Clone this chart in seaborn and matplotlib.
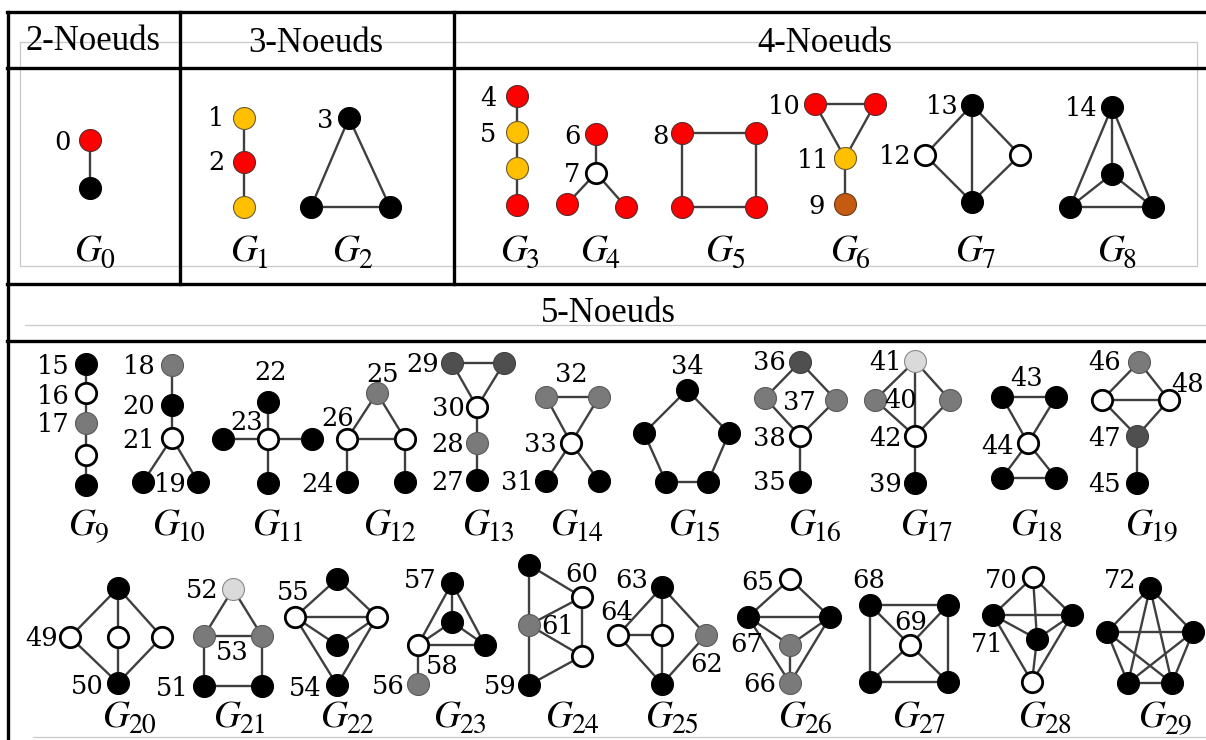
import pandas as pd
import seaborn as sns
import matplotlib.pyplot as plt
from matplotlib.collections import LineCollection

sns.set_theme(style='white')
plt.rcParams['font.family'] = ['DejaVu Serif']
plt.rcParams['text.color'] = 'black'

# ------------------------------
# data: graphlets (positions in picture pixels)
# ------------------------------
headers = ['2-Noeuds', '3-Noeuds', '4-Noeuds', '5-Noeuds']
header_x = [93, 316, 825, 608]
header_y = [42, 43, 43, 314]

# (graph, x, y, kind) -- local node index = order inside its graph
nodes = [
    (0, 90, 140, 'red'), (0, 90, 188, 'black'),
    (1, 244, 118, 'yellow'), (1, 244, 162, 'red'), (1, 244, 207, 'yellow'),
    (2, 349, 118, 'black'), (2, 311, 207, 'black'), (2, 390, 207, 'black'),
    (3, 517, 96, 'red'), (3, 517, 132, 'yellow'), (3, 517, 168, 'yellow'), (3, 517, 205, 'red'),
    (4, 596, 134, 'red'), (4, 596, 173, 'white'), (4, 567, 204, 'red'), (4, 626, 207, 'red'),
    (5, 682, 133, 'red'), (5, 756, 133, 'red'), (5, 682, 207, 'red'), (5, 756, 207, 'red'),
    (6, 815, 104, 'red'), (6, 875, 104, 'red'), (6, 845, 158, 'yellow'), (6, 845, 204, 'brown'),
    (7, 972, 105, 'black'), (7, 925, 155, 'white'), (7, 1020, 155, 'white'), (7, 972, 202, 'black'),
    (8, 1112, 107, 'black'), (8, 1112, 174, 'black'), (8, 1070, 207, 'black'), (8, 1153, 207, 'black'),
    (9, 86, 364, 'black'), (9, 86, 393, 'white'), (9, 86, 423, 'grey'), (9, 86, 455, 'white'), (9, 86, 485, 'black'),
    (10, 172, 365, 'grey'), (10, 172, 405, 'black'), (10, 172, 438, 'white'), (10, 143, 482, 'black'), (10, 198, 482, 'black'),
    (11, 268, 402, 'black'), (11, 268, 439, 'white'), (11, 223, 439, 'black'), (11, 312, 439, 'black'), (11, 268, 483, 'black'),
    (12, 377, 393, 'grey'), (12, 347, 439, 'white'), (12, 405, 439, 'white'), (12, 347, 482, 'black'), (12, 405, 482, 'black'),
    (13, 452, 363, 'dark'), (13, 504, 363, 'dark'), (13, 477, 407, 'white'), (13, 477, 443, 'grey'), (13, 477, 480, 'black'),
    (14, 546, 397, 'grey'), (14, 599, 397, 'grey'), (14, 571, 443, 'white'), (14, 546, 481, 'black'), (14, 599, 481, 'black'),
    (15, 687, 390, 'black'), (15, 644, 433, 'black'), (15, 729, 433, 'black'), (15, 666, 482, 'black'), (15, 708, 482, 'black'),
    (16, 800, 362, 'dark'), (16, 765, 398, 'grey'), (16, 836, 400, 'grey'), (16, 800, 436, 'white'), (16, 800, 482, 'black'),
    (17, 915, 361, 'light'), (17, 875, 400, 'grey'), (17, 950, 400, 'grey'), (17, 915, 436, 'white'), (17, 915, 483, 'black'),
    (18, 1002, 397, 'black'), (18, 1056, 397, 'black'), (18, 1028, 443, 'white'), (18, 1002, 478, 'black'), (18, 1056, 478, 'black'),
    (19, 1139, 362, 'grey'), (19, 1102, 400, 'white'), (19, 1169, 400, 'white'), (19, 1137, 436, 'dark'), (19, 1137, 483, 'black'),
    (20, 118, 588, 'black'), (20, 70, 637, 'white'), (20, 118, 637, 'white'), (20, 162, 637, 'white'), (20, 118, 683, 'black'),
    (21, 233, 589, 'light'), (21, 204, 636, 'grey'), (21, 262, 636, 'grey'), (21, 204, 686, 'black'), (21, 262, 686, 'black'),
    (22, 337, 579, 'black'), (22, 295, 617, 'white'), (22, 377, 617, 'white'), (22, 337, 645, 'black'), (22, 337, 685, 'black'),
    (23, 452, 583, 'black'), (23, 452, 622, 'black'), (23, 418, 645, 'white'), (23, 485, 645, 'black'), (23, 418, 684, 'grey'),
    (24, 529, 565, 'black'), (24, 529, 625, 'grey'), (24, 529, 685, 'black'), (24, 582, 597, 'white'), (24, 582, 656, 'white'),
    (25, 662, 587, 'black'), (25, 618, 635, 'white'), (25, 662, 635, 'white'), (25, 706, 635, 'grey'), (25, 662, 684, 'black'),
    (26, 790, 579, 'white'), (26, 748, 617, 'black'), (26, 830, 617, 'black'), (26, 790, 645, 'grey'), (26, 790, 683, 'grey'),
    (27, 870, 605, 'black'), (27, 948, 605, 'black'), (27, 910, 645, 'white'), (27, 870, 682, 'black'), (27, 948, 682, 'black'),
    (28, 1033, 577, 'white'), (28, 993, 615, 'black'), (28, 1072, 615, 'black'), (28, 1037, 639, 'black'), (28, 1032, 682, 'white'),
    (29, 1150, 588, 'black'), (29, 1107, 632, 'black'), (29, 1193, 632, 'black'), (29, 1128, 683, 'black'), (29, 1172, 683, 'black'),
]

# (graph, a, b)
edges = [
    (0, 0, 1),
    (1, 0, 1), (1, 1, 2),
    (2, 0, 1), (2, 0, 2), (2, 1, 2),
    (3, 0, 1), (3, 1, 2), (3, 2, 3),
    (4, 0, 1), (4, 1, 2), (4, 1, 3),
    (5, 0, 1), (5, 0, 2), (5, 1, 3), (5, 2, 3),
    (6, 0, 1), (6, 0, 2), (6, 1, 2), (6, 2, 3),
    (7, 0, 1), (7, 0, 2), (7, 0, 3), (7, 1, 3), (7, 2, 3),
    (8, 0, 1), (8, 0, 2), (8, 0, 3), (8, 1, 2), (8, 1, 3), (8, 2, 3),
    (9, 0, 1), (9, 1, 2), (9, 2, 3), (9, 3, 4),
    (10, 0, 1), (10, 1, 2), (10, 2, 3), (10, 2, 4),
    (11, 1, 0), (11, 1, 2), (11, 1, 3), (11, 1, 4),
    (12, 0, 1), (12, 0, 2), (12, 1, 2), (12, 1, 3), (12, 2, 4),
    (13, 0, 1), (13, 0, 2), (13, 1, 2), (13, 2, 3), (13, 3, 4),
    (14, 0, 1), (14, 0, 2), (14, 1, 2), (14, 2, 3), (14, 2, 4),
    (15, 0, 1), (15, 0, 2), (15, 1, 3), (15, 2, 4), (15, 3, 4),
    (16, 0, 1), (16, 0, 2), (16, 1, 3), (16, 2, 3), (16, 3, 4),
    (17, 0, 1), (17, 0, 2), (17, 0, 3), (17, 1, 3), (17, 2, 3), (17, 3, 4),
    (18, 0, 1), (18, 0, 2), (18, 1, 2), (18, 2, 3), (18, 2, 4), (18, 3, 4),
    (19, 0, 1), (19, 0, 2), (19, 1, 2), (19, 1, 3), (19, 2, 3), (19, 3, 4),
    (20, 0, 1), (20, 0, 2), (20, 0, 3), (20, 1, 4), (20, 2, 4), (20, 3, 4),
    (21, 0, 1), (21, 0, 2), (21, 1, 2), (21, 1, 3), (21, 2, 4), (21, 3, 4),
    (22, 0, 1), (22, 0, 2), (22, 1, 2), (22, 1, 3), (22, 2, 3), (22, 1, 4), (22, 2, 4),
    (23, 0, 1), (23, 0, 2), (23, 0, 3), (23, 1, 2), (23, 1, 3), (23, 2, 3), (23, 2, 4),
    (24, 0, 1), (24, 1, 2), (24, 0, 3), (24, 3, 1), (24, 3, 4), (24, 1, 4), (24, 4, 2),
    (25, 0, 1), (25, 0, 2), (25, 0, 3), (25, 1, 2), (25, 1, 4), (25, 2, 4), (25, 3, 4),
    (26, 0, 1), (26, 0, 2), (26, 1, 2), (26, 1, 3), (26, 2, 3), (26, 1, 4), (26, 2, 4), (26, 3, 4),
    (27, 0, 1), (27, 0, 3), (27, 1, 4), (27, 3, 4), (27, 0, 2), (27, 1, 2), (27, 3, 2), (27, 4, 2),
    (28, 0, 1), (28, 0, 2), (28, 0, 3), (28, 1, 2), (28, 1, 3), (28, 2, 3), (28, 1, 4), (28, 2, 4), (28, 3, 4),
    (29, 0, 1), (29, 0, 2), (29, 0, 3), (29, 0, 4), (29, 1, 2),
    (29, 1, 3), (29, 1, 4), (29, 2, 3), (29, 2, 4), (29, 3, 4),
]

# orbit numbers: (text, x, y)
orbit_labels = [
    ('0', 62, 142), ('1', 216, 119), ('2', 216, 163), ('3', 325, 121),
    ('4', 488, 99), ('5', 488, 134), ('6', 572, 137), ('7', 572, 175),
    ('8', 661, 136), ('10', 784, 106), ('11', 813, 160), ('9', 817, 206),
    ('12', 895, 157), ('13', 942, 106), ('14', 1081, 108),
    ('15', 53, 366), ('16', 53, 396), ('17', 53, 425), ('18', 139, 367),
    ('20', 139, 407), ('21', 139, 441), ('19', 170, 484), ('22', 271, 373),
    ('23', 247, 423), ('25', 383, 374), ('26', 338, 418), ('24', 318, 484),
    ('29', 423, 364), ('30', 448, 409), ('28', 448, 444), ('27', 448, 482),
    ('32', 571, 374), ('33', 540, 444), ('31', 517, 483), ('34', 687, 366),
    ('36', 769, 363), ('37', 799, 402), ('38', 769, 438), ('35', 769, 483),
    ('41', 886, 363), ('40', 901, 401), ('42', 885, 438), ('39', 885, 484),
    ('43', 1027, 379), ('44', 997, 446), ('46', 1105, 363), ('48', 1188, 384),
    ('47', 1105, 438), ('45', 1105, 484),
    ('49', 42, 638), ('50', 87, 686), ('52', 202, 591), ('53', 232, 653),
    ('51', 172, 688), ('55', 293, 593), ('54', 305, 688), ('56', 388, 687),
    ('57', 420, 581), ('58', 442, 666), ('60', 582, 574), ('61', 558, 627),
    ('59', 500, 687), ('63', 632, 581), ('64', 617, 613), ('62', 707, 664),
    ('65', 758, 583), ('67', 747, 644), ('66', 760, 684), ('68', 869, 581),
    ('69', 911, 623), ('70', 1001, 581), ('71', 987, 644), ('72', 1120, 581),
]

# graphlet names: left edge of the "G" and its baseline
g_left = [74, 230, 332, 500, 580, 705, 830, 955, 1097,
          68, 152, 252, 363, 462, 550, 668, 788, 900, 1010, 1125,
          102, 213, 320, 433, 545, 645, 778, 892, 1018, 1138]
g_base = [262] * 9 + [535] * 11 + [727] * 10

# table rules
thick_h = [(12, 7, 1206), (68, 7, 1206), (284, 7, 1206), (341, 7, 1206)]
thick_v = [(8, 12, 740), (180, 12, 284), (454, 12, 284)]
thin_h = [(42, 20, 1197), (266, 20, 1197), (325, 25, 1206), (737, 33, 1206)]
thin_v = [(20, 42, 266), (1197, 42, 266)]

# ------------------------------
# figure
# ------------------------------
kind_style = {
    'red': ('#ff0000', '#5c2a2a', 0.8),
    'yellow': ('#ffc000', '#6e5c30', 0.8),
    'brown': ('#c55a11', '#6a3a18', 0.8),
    'black': ('#000000', '#000000', 0.8),
    'white': ('#ffffff', '#000000', 2.0),
    'grey': ('#7a7a7a', '#5a5a5a', 0.8),
    'dark': ('#4f4f4f', '#404040', 0.8),
    'light': ('#dadada', '#8a8a8a', 0.8),
}

df = pd.DataFrame(nodes, columns=['graph', 'x', 'y', 'kind'])
df['local'] = df.groupby('graph').cumcount()
pos = {(r.graph, r.local): (r.x, r.y) for r in df.itertuples()}

fig = plt.figure(figsize=(12.06, 7.40), dpi=100)
ax = fig.add_axes([0, 0, 1, 1])
ax.set_xlim(0, 1206)
ax.set_ylim(740, 0)
ax.axis('off')

for y, x0, x1 in thin_h:
    ax.plot([x0, x1], [y, y], color='#c8c8c8', lw=0.9, zorder=1)
for x, y0, y1 in thin_v:
    ax.plot([x, x], [y0, y1], color='#c8c8c8', lw=0.9, zorder=1)
for y, x0, x1 in thick_h:
    ax.plot([x0, x1], [y, y], color='black', lw=2.4, zorder=1, solid_capstyle='projecting')
for x, y0, y1 in thick_v:
    ax.plot([x, x], [y0, y1], color='black', lw=2.4, zorder=1, solid_capstyle='projecting')

segs = [[pos[(g, a)], pos[(g, b)]] for g, a, b in edges]
ax.add_collection(LineCollection(segs, colors='#3f3f3f', linewidths=1.7, zorder=2))

for kind, sub in df.groupby('kind'):
    face, edge, lw = kind_style[kind]
    size = 215 if kind == 'white' else 250
    sns.scatterplot(data=sub, x='x', y='y', color=face, edgecolor=edge,
                    linewidth=lw, s=size, ax=ax, zorder=3, legend=False)

for txt, x, y in orbit_labels:
    ax.text(x, y, txt, fontsize=18.5, ha='center', va='center', color='black', zorder=4)

for i, (x, y) in enumerate(zip(g_left, g_base)):
    ax.text(x, y, 'G', fontsize=27, family='STIXGeneral', style='italic',
            ha='left', va='baseline', color='black', zorder=4)
    ax.text(x + 26, y + 6, str(i), fontsize=20, family='STIXGeneral',
            ha='left', va='baseline', color='black', zorder=4)

for txt, x, y in zip(headers, header_x, header_y):
    ax.text(x, y, txt, fontsize=25, ha='center', va='center',
            family='Liberation Serif', color='black', zorder=4)

ax.set_xlabel('')
ax.set_ylabel('')
fig.savefig('out.png', dpi=100)
